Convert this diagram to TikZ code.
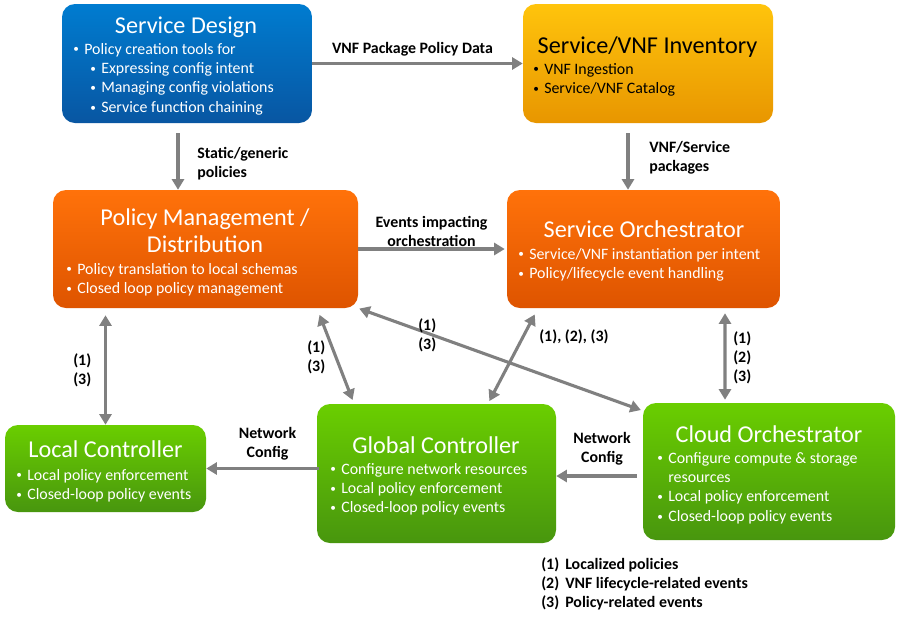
\documentclass[tikz,border=0pt]{standalone}
\usepackage{fontspec}
\setmainfont{Carlito}
\usepackage{tikz}
\usetikzlibrary{positioning,calc,arrows.meta}

\definecolor{designblue}{RGB}{0,124,208}
\definecolor{designbluedark}{RGB}{8,86,162}
\definecolor{invyellow}{RGB}{255,196,12}
\definecolor{invyellowdark}{RGB}{232,150,0}
\definecolor{orchorange}{RGB}{255,114,10}
\definecolor{orchorangedark}{RGB}{222,84,0}
\definecolor{ctrlgreen}{RGB}{106,206,0}
\definecolor{ctrlgreendark}{RGB}{72,150,14}
\definecolor{linkgray}{RGB}{128,128,128}

\newdimen\pxu \pxu=0.025cm
\newcommand{\bl}{\makebox[11\pxu][l]{\fontsize{8}{8}\selectfont\raisebox{0.8pt}{•}}}
\newcommand{\blist}[1]{\begin{tabular}[t]{@{}l@{}}#1\end{tabular}}
\newcommand{\clist}[1]{\begin{tabular}[t]{@{}c@{}}#1\end{tabular}}

\tikzset{
  box/.style 2 args={top color=#1, bottom color=#2, draw=none,
    rounded corners=13\pxu, inner sep=0pt},
  title/.style={font=\fontsize{17.2}{19.8}\selectfont, inner sep=0pt, anchor=base},
  items/.style={font=\fontsize{11.3}{13.8}\selectfont, inner sep=0pt, anchor=base west},
  lbl/.style={font=\bfseries\fontsize{11.3}{13.6}\selectfont, inner sep=0pt, anchor=base west},
  link/.style={draw=linkgray, line width=2.2pt, -{Triangle[length=7.5pt,width=8.5pt]}},
  dlink/.style={link, {Triangle[length=7.5pt,width=8.5pt]}-{Triangle[length=7.5pt,width=8.5pt]}},
}

\begin{document}
\begin{tikzpicture}[x=0.025cm, y=-0.025cm]
    \useasboundingbox[fill=white] (0,0) rectangle (900,640);

    % boxes
    \node[box={designblue}{designbluedark}, minimum width=250\pxu, minimum height=119\pxu] (design) at (187,63.5) {};
    \node[box={invyellow}{invyellowdark}, minimum width=250\pxu, minimum height=119\pxu] (inventory) at (648,63.5) {};
    \node[box={orchorange}{orchorangedark}, minimum width=305\pxu, minimum height=118\pxu] (policy) at (205.5,249) {};
    \node[box={orchorange}{orchorangedark}, minimum width=273\pxu, minimum height=118\pxu] (serviceorch) at (643.5,249) {};
    \node[box={ctrlgreen}{ctrlgreendark}, minimum width=201\pxu, minimum height=87\pxu] (localctrl) at (105.5,468.5) {};
    \node[box={ctrlgreen}{ctrlgreendark}, minimum width=239\pxu, minimum height=139\pxu] (globalctrl) at (436.5,473.5) {};
    \node[box={ctrlgreen}{ctrlgreendark}, minimum width=252\pxu, minimum height=137\pxu] (cloudorch) at (769,471.5) {};

    % box texts
    \node[title, text=white] (design title) at (186,33) {Service Design};
    \node[items, text=white] (design items) at (73,54) {\blist{\bl Policy creation tools for\\
      \hspace*{17\pxu}\bl Expressing config intent\\
      \hspace*{17\pxu}\bl Managing config violations\\
      \hspace*{17\pxu}\bl Service function chaining}};

    \node[title, text=black] (inventory title) at (647.5,53) {Service/VNF Inventory};
    \node[items, text=black] (inventory items) at (533,74) {\blist{\bl VNF Ingestion\\ \bl Service/VNF Catalog}};

    \node[title, text=white] (policy title) at (205,225) {\clist{Policy Management /\\ Distribution}};
    \node[items, text=white] (policy items) at (66,274) {\blist{\bl Policy translation to local schemas\\ \bl Closed loop policy management}};

    \node[title, text=white] (serviceorch title) at (644,237) {Service Orchestrator};
    \node[items, text=white] (serviceorch items) at (518,259) {\blist{\bl Service/VNF instantiation per intent\\ \bl Policy/lifecycle event handling}};

    \node[title, text=white] (localctrl title) at (105.5,457) {Local Controller};
    \node[items, text=white] (localctrl items) at (16,480) {\blist{\bl Local policy enforcement\\ \bl Closed-loop policy events}};

    \node[title, text=white] (globalctrl title) at (436,453) {Global Controller};
    \node[items, text=white] (globalctrl items) at (330,474) {\blist{\bl Configure network resources\\ \bl Local policy enforcement\\ \bl Closed-loop policy events}};

    \node[title, text=white] (cloudorch title) at (769,442) {Cloud Orchestrator};
    \node[items, text=white] (cloudorch items) at (657,463) {\blist{\bl Configure compute \& storage\\
      \hspace*{11\pxu}resources\\ \bl Local policy enforcement\\ \bl Closed-loop policy events}};

    % connectors
    \draw[link] (design) -- (inventory);
    \draw[link, shorten <=10\pxu] ([xshift=-9\pxu]design.south) -- ([xshift=-27.5\pxu]policy.north);
    \draw[link, shorten <=10\pxu] ([xshift=-20\pxu]inventory.south) -- ([xshift=-15.5\pxu]serviceorch.north);
    \draw[link, shorten >=2\pxu] (policy) -- (serviceorch);
    \draw[dlink, shorten <=7\pxu] (policy.south -| localctrl.north) -- (localctrl.north);
    \draw[dlink, shorten <=7\pxu, shorten >=4\pxu] ([xshift=111.5\pxu]policy.south) -- ([xshift=-82.5\pxu]globalctrl.north);
    \draw[dlink, shorten <=1\pxu, shorten >=2\pxu] (policy.south east) -- ([yshift=-8\pxu]cloudorch.north west);
    \draw[dlink, shorten <=7\pxu, shorten >=3\pxu] ([xshift=-105.5\pxu]serviceorch.south) -- ([xshift=51.5\pxu]globalctrl.north);
    \draw[dlink, shorten <=5\pxu, shorten >=3\pxu] ([xshift=81.5\pxu]serviceorch.south) -- ([xshift=-44\pxu]cloudorch.north);
    \draw[link, shorten <=-2\pxu] (globalctrl.west |- localctrl.east) -- (localctrl.east);
    \coordinate (cloudout) at ([yshift=-4.5\pxu]cloudorch.west);
    \draw[link, shorten <=6\pxu] (cloudout) -- (globalctrl.east |- cloudout);

    % connector labels
    \node[lbl, anchor=base] (lbl pkgdata) at (412.5,53) {VNF Package Policy Data};
    \node[lbl] (lbl static) at (197,158) {\blist{Static/generic\\ policies}};
    \node[lbl] (lbl packages) at (649,152) {\blist{VNF/Service\\ packages}};
    \node[lbl, anchor=base] (lbl events) at (431.5,227) {\clist{Events impacting\\ orchestration}};
    \node[lbl] (lbl local) at (73,365) {\blist{(1)\\ (3)}};
    \node[lbl] (lbl global) at (307,352) {\blist{(1)\\ (3)}};
    \node[lbl] (lbl cloud) at (418,330) {\blist{(1)\\ (3)}};
    \node[lbl] (lbl orchglobal) at (539,341) {(1), (2), (3)};
    \node[lbl] (lbl orchcloud) at (733,343) {\blist{(1)\\ (2)\\ (3)}};
    \node[lbl, anchor=base] (lbl netleft) at (267.5,438) {\clist{Network\\ Config}};
    \node[lbl, anchor=base] (lbl netright) at (602,443) {\clist{Network\\ Config}};

    % legend
    \node[lbl] (legend) at (541,569) {\begin{tabular}[t]{@{}l@{\hspace{6\pxu}}l@{}}
      (1) & Localized policies\\ (2) & VNF lifecycle-related events\\ (3) & Policy-related events\end{tabular}};
\end{tikzpicture}
\end{document}
